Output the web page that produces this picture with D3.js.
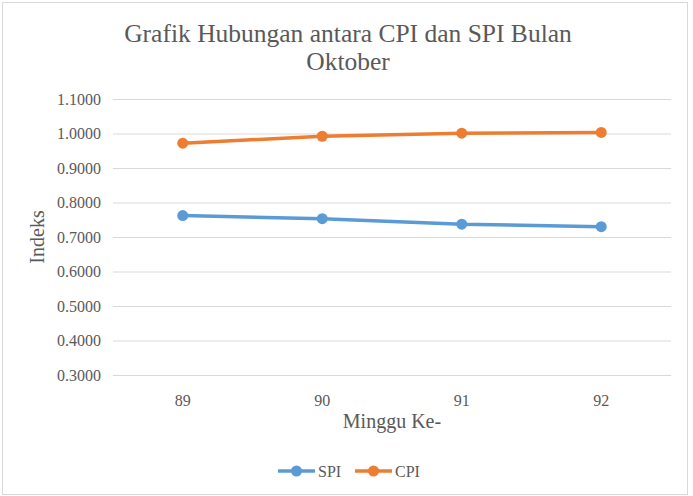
<!DOCTYPE html>
<html>
<head>
<meta charset="utf-8">
<script src="https://cdn.jsdelivr.net/npm/d3@7"></script>
<style>
  html, body { margin: 0; padding: 0; background: #fff; }
  svg { display: block; }
  svg text { font-family: "Liberation Serif", "Times New Roman", serif; }
</style>
</head>
<body>
<div id="chart"></div>
<script>
// Chart data
const weeks = ['89', '90', '91', '92'];
const spiValues = [0.762, 0.753, 0.737, 0.730];
const cpiValues = [0.972, 0.992, 1.001, 1.003];
const yTicks = [0.3, 0.4, 0.5, 0.6, 0.7, 0.8, 0.9, 1.0, 1.1];

const series = [
    { name: 'SPI', values: spiValues, color: '#5b9bd5' },
    { name: 'CPI', values: cpiValues, color: '#ed7d31' }
];

const width = 693, height = 496;
const margin = { top: 99, right: 22, bottom: 121, left: 113 };
const textColor = '#595959';

const svg = d3.select('#chart').append('svg')
    .attr('width', width)
    .attr('height', height);

// Outer chart border
svg.append('rect')
    .attr('x', 2.5).attr('y', 2.5)
    .attr('width', 685).attr('height', 492)
    .attr('fill', '#fff')
    .attr('stroke', '#d9d9d9');

const x = d3.scaleBand()
    .domain(weeks)
    .range([margin.left, width - margin.right]);

const y = d3.scaleLinear()
    .domain([0.3, 1.1])
    .range([height - margin.bottom, margin.top]);

// Gridlines + y labels
const yAxis = d3.axisLeft(y)
    .tickValues(yTicks)
    .tickSize(-(width - margin.left - margin.right))
    .tickPadding(12)
    .tickFormat(d3.format('.4f'));

const gy = svg.append('g')
    .attr('transform', `translate(${margin.left},0)`)
    .call(yAxis);
gy.select('.domain').remove();
gy.selectAll('.tick line').attr('stroke', '#d9d9d9').attr('stroke-width', 1);
gy.selectAll('.tick text')
    .attr('fill', textColor)
    .style('font-size', '16px');

// X labels
const xAxis = d3.axisBottom(x).tickSize(0).tickPadding(20);
const gx = svg.append('g')
    .attr('transform', `translate(0,${height - margin.bottom})`)
    .call(xAxis);
gx.select('.domain').remove();
gx.selectAll('.tick text')
    .attr('fill', textColor)
    .style('font-size', '16px');

// Lines and markers
const line = d3.line()
    .x((d, i) => x(weeks[i]) + x.bandwidth() / 2)
    .y(d => y(d));

series.forEach(s => {
    svg.append('path')
        .datum(s.values)
        .attr('fill', 'none')
        .attr('stroke', s.color)
        .attr('stroke-width', 3.5)
        .attr('stroke-linejoin', 'round')
        .attr('d', line);

    svg.append('g')
        .selectAll('circle')
        .data(s.values)
        .enter().append('circle')
        .attr('cx', (d, i) => x(weeks[i]) + x.bandwidth() / 2)
        .attr('cy', d => y(d))
        .attr('r', 5.5)
        .attr('fill', s.color);
});

// Title
const title = svg.append('text')
    .attr('text-anchor', 'middle')
    .attr('fill', textColor)
    .style('font-size', '25.5px');
title.append('tspan').attr('x', 348).attr('y', 42)
    .text('Grafik Hubungan antara CPI dan SPI Bulan');
title.append('tspan').attr('x', 348).attr('y', 70)
    .text('Oktober');

// Axis titles
svg.append('text')
    .attr('x', 392).attr('y', 428)
    .attr('text-anchor', 'middle')
    .attr('fill', textColor)
    .style('font-size', '20px')
    .text('Minggu Ke-');

svg.append('text')
    .attr('transform', `translate(44,${(margin.top + height - margin.bottom) / 2}) rotate(-90)`)
    .attr('text-anchor', 'middle')
    .attr('fill', textColor)
    .style('font-size', '20px')
    .text('Indeks');

// Legend
const legendX = [278, 355];
const legend = svg.append('g')
    .selectAll('g')
    .data(series)
    .enter().append('g')
    .attr('transform', (d, i) => `translate(${legendX[i]},471)`);
legend.append('line')
    .attr('x1', 0).attr('x2', 37)
    .attr('stroke', d => d.color)
    .attr('stroke-width', 3.5);
legend.append('circle')
    .attr('cx', 18.5).attr('r', 5.5)
    .attr('fill', d => d.color);
legend.append('text')
    .attr('x', 40).attr('y', 5.5)
    .attr('fill', textColor)
    .style('font-size', '16px')
    .text(d => d.name);
</script>
</body>
</html>
